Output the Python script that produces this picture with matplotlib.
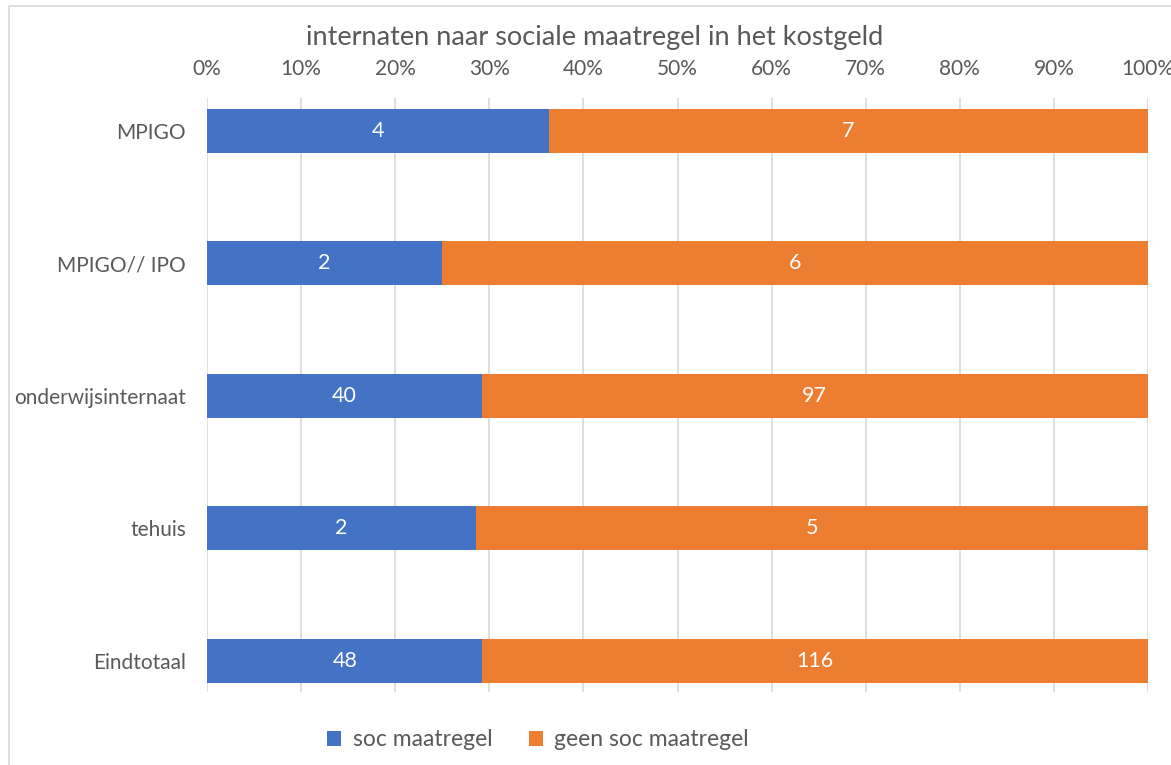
import matplotlib
matplotlib.use('Agg')
import matplotlib.pyplot as plt
import numpy as np

categories = ['MPIGO', 'MPIGO// IPO', 'onderwijsinternaat', 'tehuis', 'Eindtotaal']
soc = [4, 2, 40, 2, 48]
geen_soc = [7, 6, 97, 5, 116]
series_names = ['soc maatregel', 'geen soc maatregel']
colors = ['#4472C4', '#ED7D31']
tick_labels = ['0%', '10%', '20%', '30%', '40%', '50%', '60%', '70%', '80%', '90%', '100%']

plt.rcParams['font.family'] = ['Lato', 'DejaVu Sans']
text_color = '#595959'

W, H = 1171, 765
fig = plt.figure(figsize=(W / 100, H / 100), dpi=100)

# faint chart border (cut off at right and bottom)
fig.patches.append(matplotlib.patches.Rectangle((9 / W, -0.1), 1.2, 1 - 6 / H + 0.1,
                                                transform=fig.transFigure, fill=False,
                                                edgecolor='#d9d9d9', linewidth=1.2))

ax = fig.add_axes([207 / W, 1 - 692 / H, (1148 - 207) / W, (692 - 98) / H])

soc = np.array(soc, dtype=float)
geen_soc = np.array(geen_soc, dtype=float)
total = soc + geen_soc
p1 = soc / total
p2 = geen_soc / total
y = np.arange(len(categories))

b1 = ax.barh(y, p1, height=0.332, color=colors[0], label=series_names[0], zorder=3)
b2 = ax.barh(y, p2, left=p1, height=0.332, color=colors[1], label=series_names[1], zorder=3)

for i in range(len(categories)):
    ax.text(p1[i] / 2, y[i], str(int(soc[i])), ha='center', va='center',
            color='white', fontsize=15.5, zorder=4)
    ax.text(p1[i] + p2[i] / 2, y[i], str(int(geen_soc[i])), ha='center', va='center',
            color='white', fontsize=15.5, zorder=4)

ax.set_xlim(0, 1)
ax.set_ylim(4.234, -0.249)
ax.set_xticks(np.linspace(0, 1, 11))
ax.set_xticklabels(tick_labels)
ax.xaxis.tick_top()
ax.set_yticks(y)
ax.set_yticklabels(categories)
ax.tick_params(axis='both', length=0, labelsize=15, labelcolor=text_color)
ax.tick_params(axis='x', pad=14)
ax.tick_params(axis='y', pad=15)
ax.grid(axis='x', color='#d9d9d9', linewidth=1.2, zorder=0)
for s in ax.spines.values():
    s.set_visible(False)

fig.text(595 / W, 1 - 38 / H, 'internaten naar sociale maatregel in het kostgeld',
         ha='center', va='center', fontsize=19.5, color=text_color)

fig.legend(handles=[b1, b2], labels=series_names, loc='center',
           bbox_to_anchor=(538 / W, 1 - 740 / H), ncol=2, frameon=False,
           fontsize=16.5, labelcolor=text_color, handlelength=0.6, handleheight=0.6,
           columnspacing=1.6, handletextpad=0.5)

fig.savefig('out.png', dpi=100)
